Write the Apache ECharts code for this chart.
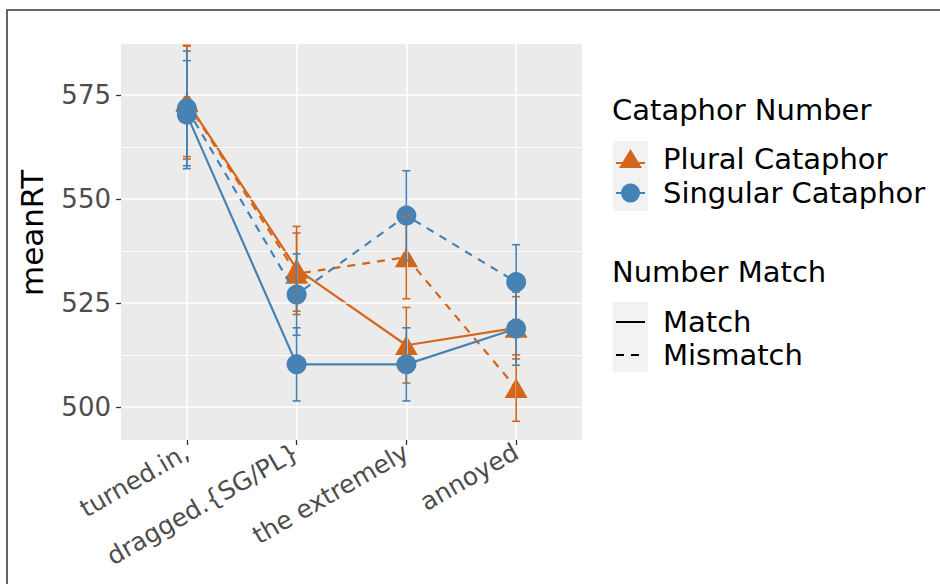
<!DOCTYPE html>
<html>
<head>
<meta charset="utf-8">
<script src="https://cdn.jsdelivr.net/npm/echarts@6/dist/echarts.min.js"></script>
<style>
  html, body { margin: 0; padding: 0; background: #fff; }
  #chart { width: 940px; height: 584px; }
</style>
</head>
<body>
<div id="chart"></div>
<script>
// categories on the x axis
var categories = ['turned.in,', 'dragged.{SG/PL}', 'the extremely', 'annoyed'];
var yTicks = [500, 525, 550, 575];
var yMinor = [512.5, 537.5, 562.5, 587.5];

// mean reading times, one array per group
var pluralMatch = [573.5, 533.2, 514.8, 519.0];
var pluralMismatch = [573.3, 532.0, 536.0, 504.5];
var singularMatch = [570.3, 510.2, 510.2, 518.8];
var singularMismatch = [571.8, 527.0, 546.0, 530.0];

// half width of the error bars
var pluralMatchErr = [13.3, 10.2, 9.1, 7.5];
var pluralMismatchErr = [13.7, 9.8, 10.0, 8.0];
var singularMatchErr = [13.0, 8.8, 8.8, 8.8];
var singularMismatchErr = [13.8, 9.8, 10.8, 9.0];

// legend texts
var cataphorTitle = 'Cataphor Number';
var cataphorLabels = ['Plural Cataphor', 'Singular Cataphor'];
var matchTitle = 'Number Match';
var matchLabels = ['Match', 'Mismatch'];

var ORANGE = '#D4661C';
var BLUE = '#4682B4';
var FONT = '"DejaVu Sans", Verdana, sans-serif';
var LEGEND_FONT = '29px ' + FONT;

var groups = [
    {name: 'Plural Match', values: pluralMatch, err: pluralMatchErr, color: ORANGE, symbol: 'triangle', dash: 'solid'},
    {name: 'Plural Mismatch', values: pluralMismatch, err: pluralMismatchErr, color: ORANGE, symbol: 'triangle', dash: [8, 7]},
    {name: 'Singular Match', values: singularMatch, err: singularMatchErr, color: BLUE, symbol: 'circle', dash: 'solid'},
    {name: 'Singular Mismatch', values: singularMismatch, err: singularMismatchErr, color: BLUE, symbol: 'circle', dash: [8, 7]}
];

function points(values) {
    return values.map(function (v, i) { return [i + 1, v]; });
}

var series = [];

// gridlines, drawn through the axes
var gridLines = [];
yTicks.forEach(function (v) { gridLines.push({yAxis: v, lineStyle: {width: 1.6}}); });
yMinor.forEach(function (v) { gridLines.push({yAxis: v, lineStyle: {width: 0.8}}); });
categories.forEach(function (c, i) { gridLines.push({xAxis: i + 1, lineStyle: {width: 1.6}}); });
series.push({
    type: 'line',
    name: 'grid',
    z: 1,
    data: points(pluralMatch),
    showSymbol: false,
    lineStyle: {width: 0, opacity: 0},
    silent: true,
    markLine: {
        silent: true,
        symbol: 'none',
        label: {show: false},
        lineStyle: {color: '#FFFFFF', type: 'solid'},
        data: gridLines
    }
});

groups.forEach(function (g, k) {
    series.push({
        type: 'line',
        name: g.name,
        z: 3 + k,
        data: points(g.values),
        symbol: g.symbol,
        symbolSize: g.symbol === 'triangle' ? [23, 20] : 20,
        showAllSymbol: true,
        itemStyle: {color: g.color, opacity: 1},
        lineStyle: {color: g.color, width: 2.2, type: g.dash},
        emphasis: {disabled: true}
    });
});

groups.forEach(function (g, k) {
    series.push({
        type: 'custom',
        name: g.name + ' err',
        z: 10 + k,
        data: g.values.map(function (v, i) { return [i + 1, v - g.err[i], v + g.err[i]]; }),
        encode: {x: 0, y: [1, 2]},
        renderItem: function (params, api) {
            var x = api.value(0);
            var lo = api.coord([x, api.value(1)]);
            var hi = api.coord([x, api.value(2)]);
            var w = 4;
            var st = {stroke: g.color, lineWidth: 1.6};
            return {
                type: 'group',
                children: [
                    {type: 'line', shape: {x1: lo[0], y1: lo[1], x2: hi[0], y2: hi[1]}, style: st},
                    {type: 'line', shape: {x1: lo[0] - w, y1: lo[1], x2: lo[0] + w, y2: lo[1]}, style: st},
                    {type: 'line', shape: {x1: hi[0] - w, y1: hi[1], x2: hi[0] + w, y2: hi[1]}, style: st}
                ]
            };
        }
    });
});

// ggplot-like legend
var legend = [];
legend.push({type: 'rect', shape: {x: 7, y: 10, width: 960, height: 620}, style: {fill: 'none', stroke: '#333', lineWidth: 1.5}});
legend.push({type: 'text', x: 612, y: 110, style: {text: cataphorTitle, font: LEGEND_FONT, fill: '#000', verticalAlign: 'middle'}});
legend.push({type: 'rect', shape: {x: 613, y: 141, width: 35, height: 70}, style: {fill: '#F2F2F2'}});
legend.push({type: 'rect', shape: {x: 613, y: 302, width: 35, height: 70}, style: {fill: '#F2F2F2'}});
legend.push({type: 'text', x: 612, y: 272, style: {text: matchTitle, font: LEGEND_FONT, fill: '#000', verticalAlign: 'middle'}});
var keyY = [159, 193];
cataphorLabels.forEach(function (lab, i) {
    var col = i === 0 ? ORANGE : BLUE;
    legend.push({type: 'line', shape: {x1: 616, y1: keyY[i] + (i === 0 ? 4 : 0), x2: 645, y2: keyY[i] + (i === 0 ? 4 : 0)}, style: {stroke: col, lineWidth: 2}});
    if (i === 0) {
        legend.push({type: 'polygon', shape: {points: [[630.5, keyY[i] - 10], [619, keyY[i] + 9], [642, keyY[i] + 9]]}, style: {fill: col}});
    } else {
        legend.push({type: 'circle', shape: {cx: 630.5, cy: keyY[i], r: 9.5}, style: {fill: col}});
    }
    legend.push({type: 'text', x: 663, y: keyY[i], style: {text: lab, font: LEGEND_FONT, fill: '#000', verticalAlign: 'middle'}});
});
var matchY = [322, 355];
matchLabels.forEach(function (lab, i) {
    legend.push({type: 'line', shape: {x1: 616, y1: matchY[i], x2: 645, y2: matchY[i]}, style: {stroke: '#000', lineWidth: 2, lineDash: i === 0 ? null : [8, 7]}});
    legend.push({type: 'text', x: 663, y: matchY[i], style: {text: lab, font: LEGEND_FONT, fill: '#000', verticalAlign: 'middle'}});
});

var chart = echarts.init(document.getElementById('chart'), null, {renderer: 'svg'});
chart.setOption({
    backgroundColor: '#FFFFFF',
    animation: false,
    grid: {
        left: 121, top: 44, right: 358, bottom: 144,
        show: true, backgroundColor: '#EBEBEB', borderWidth: 0
    },
    xAxis: {
        type: 'value',
        min: 0.4,
        max: 4.6,
        axisLine: {show: false},
        splitLine: {show: false},
        axisTick: {show: true, length: 5, customValues: [1, 2, 3, 4], lineStyle: {color: '#333', width: 1.3}},
        axisLabel: {
            customValues: [1, 2, 3, 4],
            rotate: 30,
            margin: 10,
            color: '#4D4D4D',
            fontSize: 25,
            fontFamily: FONT,
            formatter: function (v) { return categories[Math.round(v) - 1]; }
        }
    },
    yAxis: {
        type: 'value',
        min: 492,
        max: 587.3,
        name: 'meanRT',
        nameLocation: 'middle',
        nameGap: 74,
        nameTextStyle: {color: '#000', fontSize: 31, fontFamily: FONT, padding: [0, 0, 0, 18]},
        axisLine: {show: false},
        splitLine: {show: false},
        axisTick: {show: true, length: 5, customValues: yTicks, lineStyle: {color: '#333', width: 1.3}},
        axisLabel: {customValues: yTicks, margin: 10, color: '#4D4D4D', fontSize: 26, fontFamily: FONT}
    },
    graphic: legend,
    series: series
});
</script>
</body>
</html>
